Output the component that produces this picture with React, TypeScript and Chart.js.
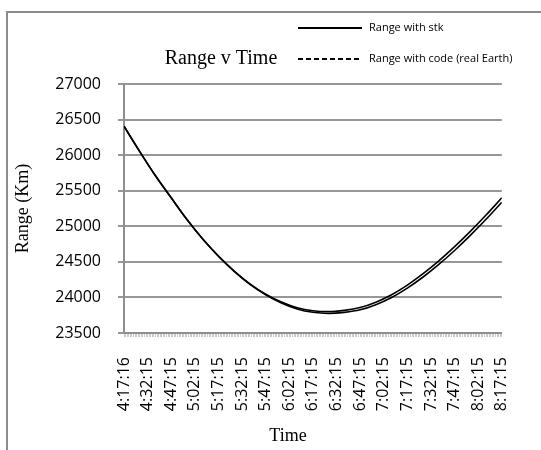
import React, { useEffect, useRef } from 'react';
import { Chart, registerables } from 'chart.js';

Chart.register(...registerables);

// Time-axis labels, one every 15 minutes of the pass
const timeLabels = [
  '4:17:16', '4:32:15', '4:47:15', '5:02:15', '5:17:15', '5:32:15', '5:47:15', '6:02:15', '6:17:15',
  '6:32:15', '6:47:15', '7:02:15', '7:17:15', '7:32:15', '7:47:15', '8:02:15', '8:17:15',
];

// Sample times, minutes after 4:17:16
const sampleMinutes = [
  0, 10, 20, 30, 40, 50, 60, 70, 80, 90, 100, 110, 120,
  130, 140, 150, 160, 170, 180, 190, 200, 210, 220, 230, 240,
];

// Range (km) computed by STK
const rangeStk = [
  26406, 26050, 25710, 25400, 25095, 24820, 24580, 24370, 24190, 24045, 23935, 23855, 23812,
  23800, 23818, 23858, 23933, 24038, 24173, 24333, 24513, 24713, 24928, 25158, 25400,
];

// Range (km) computed by our own code with the real Earth model
const rangeCode = [
  26406, 26050, 25710, 25400, 25095, 24820, 24579, 24367, 24184, 24037, 23923, 23838, 23791,
  23775, 23790, 23826, 23898, 23999, 24131, 24287, 24464, 24660, 24872, 25098, 25338,
];

const seriesNames = ['Range with stk', 'Range with code (real Earth)'];
const chartTitle = 'Range v Time';
const xTitle = 'Time';
const yTitle = 'Range (Km)';

const yMin = 23500;
const yMax = 27000;
const yStep = 500;
const labelStepMinutes = 15;
const spanMinutes = 240;

const serif = '"Liberation Serif", "Times New Roman", serif';
const sans = '"Open Sans", sans-serif';

// Chart title, legend and the x-axis title, laid out Excel-style
const headerPlugin = {
  id: 'header',
  afterDraw(chart: any) {
    const { ctx } = chart;
    ctx.save();
    ctx.fillStyle = '#000';
    ctx.textBaseline = 'middle';

    ctx.font = `20px ${serif}`;
    ctx.textAlign = 'center';
    ctx.fillText(chartTitle, 221, 59);

    ctx.font = `18px ${serif}`;
    ctx.fillText(xTitle, 288, 436);

    const rows = [
      { y: 28, dash: [] as number[] },
      { y: 59, dash: [5, 3] },
    ];
    chart.data.datasets.forEach((ds: any, i: number) => {
      const row = rows[i];
      ctx.beginPath();
      ctx.setLineDash(row.dash);
      ctx.lineWidth = 2;
      ctx.strokeStyle = '#000';
      ctx.moveTo(298, row.y);
      ctx.lineTo(362, row.y);
      ctx.stroke();
      ctx.setLineDash([]);
      ctx.font = `11px ${sans}`;
      ctx.textAlign = 'left';
      ctx.fillText(ds.label, 369, row.y);
    });
    ctx.restore();
  },
};

export default function App() {
  const canvasRef = useRef<HTMLCanvasElement | null>(null);

  useEffect(() => {
    const canvas = canvasRef.current;
    if (!canvas) return;

    const toPoints = (values: number[]) => values.map((v, i) => ({ x: sampleMinutes[i], y: v }));

    const chart = new Chart(canvas, {
      type: 'line',
      data: {
        datasets: [
          {
            label: seriesNames[0],
            data: toPoints(rangeStk),
            borderColor: '#000',
            borderWidth: 1.6,
            pointRadius: 0,
            cubicInterpolationMode: 'monotone',
            fill: false,
          },
          {
            label: seriesNames[1],
            data: toPoints(rangeCode),
            borderColor: '#000',
            borderWidth: 1.6,
            pointRadius: 0,
            cubicInterpolationMode: 'monotone',
            fill: false,
          },
        ],
      },
      options: {
        animation: false,
        responsive: false,
        events: [],
        layout: { padding: { top: 84, right: 13, left: 0, bottom: 0 } },
        plugins: {
          legend: { display: false },
          tooltip: { enabled: false },
          title: { display: false },
        },
        scales: {
          x: {
            type: 'linear',
            min: 0,
            max: spanMinutes,
            afterBuildTicks: (scale: any) => {
              // a minor tick for every minute of the pass
              scale.ticks = Array.from({ length: spanMinutes + 1 }, (_, i) => ({ value: i }));
            },
            afterFit: (scale: any) => {
              scale.height = 117;
            },
            grid: {
              drawOnChartArea: false,
              drawTicks: true,
              tickLength: 4,
              color: '#cacaca',
              lineWidth: 1,
            },
            border: { display: true, color: '#8f8f8f', width: 2 },
            ticks: {
              autoSkip: false,
              minRotation: 90,
              maxRotation: 90,
              padding: 20,
              color: '#000',
              font: { family: sans, size: 16 },
              callback: (value: any) =>
                Number(value) % labelStepMinutes === 0 ? timeLabels[Number(value) / labelStepMinutes] : '',
            },
          },
          y: {
            min: yMin,
            max: yMax,
            afterFit: (scale: any) => {
              scale.width = 124;
            },
            grid: { color: '#979797', lineWidth: 2, tickLength: 6 },
            border: { color: '#8f8f8f', width: 2 },
            ticks: {
              stepSize: yStep,
              padding: 17,
              color: '#000',
              font: { family: sans, size: 16 },
              callback: (value: any) => String(value),
            },
            title: {
              display: true,
              text: yTitle,
              color: '#000',
              font: { family: serif, size: 18 },
              padding: { top: 12, bottom: 0 },
            },
          },
        },
      },
      plugins: [headerPlugin],
    });

    return () => chart.destroy();
  }, []);

  return (
    <div
      style={{
        position: 'fixed',
        left: 0,
        top: 0,
        width: 541,
        height: 450,
        overflow: 'hidden',
        background: '#fff',
      }}
    >
      <div
        style={{
          position: 'absolute',
          left: 6,
          top: 11,
          width: 700,
          height: 700,
          border: '2px solid #8c8c8c',
        }}
      />
      <canvas
        ref={canvasRef}
        width={541}
        height={450}
        style={{ position: 'absolute', left: 0, top: 0, width: 541, height: 450 }}
      />
    </div>
  );
}
